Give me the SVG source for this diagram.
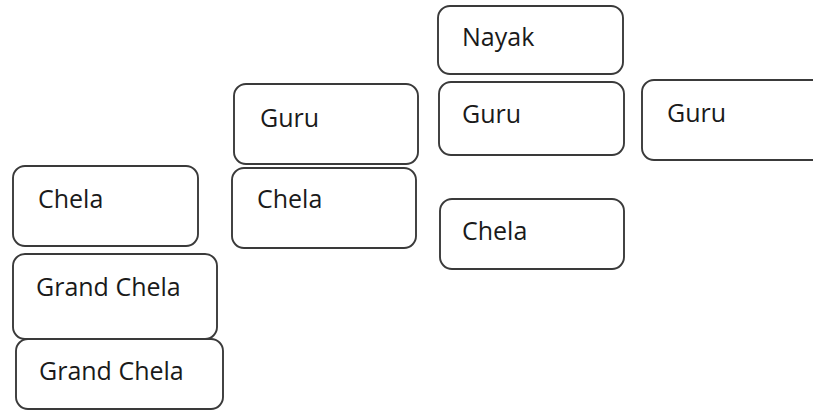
<svg xmlns="http://www.w3.org/2000/svg" width="813" height="411" viewBox="0 0 813 411">
<style>
.box{fill:#fff;stroke:#3a3a3a;stroke-width:1.9}
.lbl{font-family:"Open Sans","Liberation Sans",sans-serif;font-size:25px;fill:#1a1a1a}
</style>
<rect x="0" y="0" width="813" height="411" fill="#fff"/>
<g id="connectors"></g>
<g id="chela-left"><rect class="box" x="13" y="166" width="185" height="80" rx="12"/><text class="lbl" x="38" y="208">Chela</text></g>
<g id="grand-chela-1"><rect class="box" x="13" y="254" width="204" height="85" rx="12"/><text class="lbl" x="36" y="296">Grand Chela</text></g>
<g id="grand-chela-2"><rect class="box" x="16" y="339" width="207" height="70" rx="12"/><text class="lbl" x="39" y="380">Grand Chela</text></g>
<g id="guru-left"><rect class="box" x="234" y="84" width="184" height="80" rx="12"/><text class="lbl" x="260" y="127">Guru</text></g>
<g id="chela-midleft"><rect class="box" x="232" y="168" width="184" height="80" rx="12"/><text class="lbl" x="257" y="208">Chela</text></g>
<g id="nayak"><rect class="box" x="438" y="6" width="185" height="68" rx="12"/><text class="lbl" x="462" y="46">Nayak</text></g>
<g id="guru-mid"><rect class="box" x="439" y="82" width="185" height="73" rx="12"/><text class="lbl" x="462" y="123">Guru</text></g>
<g id="chela-mid"><rect class="box" x="440" y="199" width="184" height="70" rx="12"/><text class="lbl" x="462" y="240">Chela</text></g>
<g id="guru-right"><rect class="box" x="642" y="80" width="190" height="80" rx="12"/><text class="lbl" x="667" y="122">Guru</text></g>
</svg>
